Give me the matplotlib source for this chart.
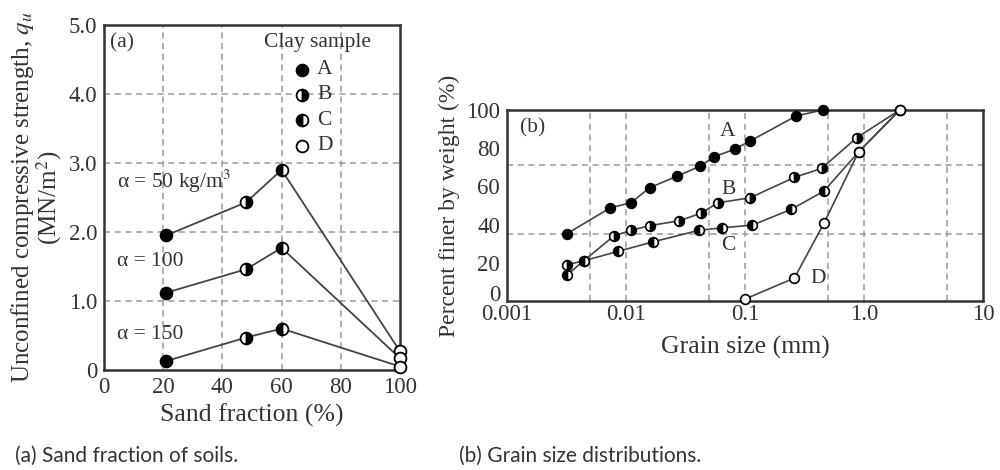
import numpy as np
import matplotlib.transforms as mtransforms
from matplotlib import pyplot as plt

plt.rcParams['font.family'] = ['Liberation Serif', 'DejaVu Serif']
plt.rcParams['mathtext.fontset'] = 'stix'

# (a) unconfined compressive strength vs sand fraction
SAND = [21, 48, 60, 100]
QU_50 = [1.95, 2.43, 2.90, 0.27]
QU_100 = [1.12, 1.46, 1.77, 0.17]
QU_150 = [0.13, 0.47, 0.60, 0.05]
ALPHA_LABELS = ['\u03b1 = 50 kg/m$^3$', '\u03b1 = 100', '\u03b1 = 150']
SAMPLES = ['A', 'B', 'C', 'D']

# (b) grain size distributions
A_X = [0.0032, 0.0074, 0.011, 0.0158, 0.027, 0.042, 0.055, 0.082, 0.11, 0.27, 0.45]
A_Y = [35.3, 48.8, 51.4, 59.3, 65.4, 70.6, 75.5, 79.5, 83.7, 96.9, 100]
B_X = [0.0032, 0.0044, 0.0079, 0.011, 0.016, 0.028, 0.043, 0.059, 0.11, 0.26, 0.44, 0.87, 2.0]
B_Y = [19, 21, 34, 37, 39.5, 42, 46, 51.4, 54, 64.7, 69.4, 85.5, 100]
C_X = [0.0032, 0.0044, 0.0086, 0.017, 0.041, 0.064, 0.115, 0.245, 0.46, 0.9, 2.0]
C_Y = [13.6, 21, 26, 31, 37, 38.3, 39.7, 48, 57.5, 78, 100]
D_X = [0.1, 0.26, 0.46, 0.9, 2.0]
D_Y = [1, 12, 40.6, 78, 100]

LINE = '#444444'
GRID = '#9a9a9a'
SPINE = '#333333'
TXT = '#333333'
MS_A = 8.5
MS_B = 7

# marker style per clay sample
STYLE = {
    'A': dict(marker='o', fillstyle='full', markerfacecolor='black'),
    'B': dict(marker='o', fillstyle='right', markerfacecolor='black', markerfacecoloralt='white'),
    'C': dict(marker='o', fillstyle='left', markerfacecolor='black', markerfacecoloralt='white'),
    'D': dict(marker='o', fillstyle='full', markerfacecolor='white'),
}


def dashed_grid(ax, xs, ys):
    for x in xs:
        ax.axvline(x, color=GRID, lw=1.1, ls=(0, (4, 3)), zorder=0)
    for y in ys:
        ax.axhline(y, color=GRID, lw=1.1, ls=(0, (4, 3)), zorder=0)


def frame(ax):
    for s in ax.spines.values():
        s.set_color(SPINE)
        s.set_linewidth(1.8)
    ax.tick_params(length=0, labelsize=16.5, colors=TXT, pad=5)


fig = plt.figure(figsize=(10, 4.7), dpi=100)

# ---- panel (a)
ax1 = fig.add_axes([0.104, 0.2128, 0.296, 0.734])
dashed_grid(ax1, [20, 40, 60, 80], [1, 2, 3, 4])
for qu in (QU_50, QU_100, QU_150):
    ax1.plot(SAND, qu, '-', color=LINE, lw=1.3, zorder=2)
    for x, y, s in zip(SAND, qu, SAMPLES):
        ax1.plot([x], [y], linestyle='none', markersize=MS_A, markeredgecolor='black',
                 markeredgewidth=1.3, clip_on=False, zorder=3, **STYLE[s])
for lab, y in zip(ALPHA_LABELS, [2.74, 1.57, 0.51]):
    ax1.text(4.4, y, lab, fontsize=15.5, color=TXT, va='center')
ax1.text(2, 4.74, '(a)', fontsize=15.5, color=TXT, va='center')
ax1.text(54, 4.74, 'Clay sample', fontsize=15.5, color=TXT, va='center')
for s, y in zip(SAMPLES, [4.35, 3.99, 3.62, 3.25]):
    ax1.plot([67], [y], linestyle='none', markersize=MS_A, markeredgecolor='black',
             markeredgewidth=1.3, zorder=3, **STYLE[s])
    ax1.text(72, y, s, fontsize=15.5, color=TXT, va='center')
ax1.set_xlim(0, 100)
ax1.set_ylim(0, 5)
ax1.set_xticks([0, 20, 40, 60, 80, 100])
ax1.set_yticks([0, 1, 2, 3, 4, 5])
ax1.set_yticklabels(['0', '1.0', '2.0', '3.0', '4.0', '5.0'])
ax1.set_xlabel('Sand fraction (%)', fontsize=18.5, color=TXT, labelpad=4)
ax1.set_ylabel('Unconfined compressive strength, $q_u$\n(MN/m$^2$)', fontsize=18,
               color=TXT, labelpad=3, linespacing=0.95)
frame(ax1)

# ---- panel (b)
ax2 = fig.add_axes([0.507, 0.3596, 0.476, 0.4064])
ax2.set_xscale('log')
dashed_grid(ax2, [0.005, 0.01, 0.05, 0.1, 0.5, 1.0, 5.0], [35, 71])
for xs, ys, s in [(A_X, A_Y, 'A'), (B_X, B_Y, 'B'), (C_X, C_Y, 'C'), (D_X, D_Y, 'D')]:
    ax2.plot(xs, ys, '-', color=LINE, lw=1.2, zorder=2)
    ax2.plot(xs, ys, linestyle='none', markersize=MS_B, markeredgecolor='black',
             markeredgewidth=1.2, clip_on=False, zorder=3, **STYLE[s])
ax2.text(0.00128, 90.4, '(b)', fontsize=15.5, color=TXT, va='center')
ax2.text(0.072, 88.6, 'A', fontsize=15.5, color=TXT, va='center', ha='center')
ax2.text(0.073, 58.6, 'B', fontsize=15.5, color=TXT, va='center', ha='center')
ax2.text(0.073, 29.2, 'C', fontsize=15.5, color=TXT, va='center', ha='center')
ax2.text(0.41, 11.7, 'D', fontsize=15.5, color=TXT, va='center', ha='center')
ax2.set_xlim(0.001, 10)
ax2.set_ylim(0, 100)
ax2.set_xticks([0.001, 0.01, 0.1, 1.0, 10])
ax2.set_xticklabels(['0.001', '0.01', '0.1', '1.0', '10'])
ax2.minorticks_off()
ax2.set_yticks([0, 20, 40, 60, 80, 100])
ax2.set_xlabel('Grain size (mm)', fontsize=18.5, color=TXT, labelpad=8)
ax2.set_ylabel('Percent finer by weight (%)', fontsize=17, color=TXT, labelpad=4)
frame(ax2)
ax2.tick_params(axis='x', pad=2)
# lift the bottom "0" a little so it sits above "0.001" as in the original
zero = ax2.get_yticklabels()[0]
zero.set_transform(zero.get_transform() + mtransforms.ScaledTranslation(0, 6 / 72, fig.dpi_scale_trans))

# captions
fig.text(0.015, 0.03, '(a) Sand fraction of soils.', fontsize=15, family='Lato',
         color=TXT, va='center')
fig.text(0.459, 0.03, '(b) Grain size distributions.', fontsize=15, family='Lato',
         color=TXT, va='center')

fig.savefig('out.png', dpi=100)
plt.close()
